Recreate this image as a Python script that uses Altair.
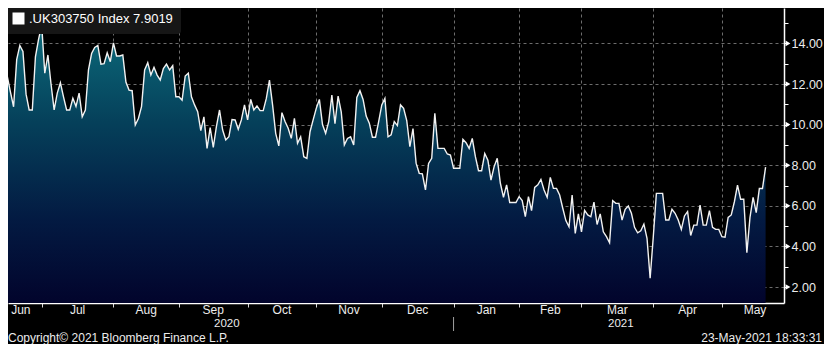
import altair as alt
import pandas as pd

# ---- data ----
values = [
    10.75, 11.12, 12.36, 11.6, 10.88, 13.2, 13.9, 13.6, 11.5, 10.72,
    10.72, 13.34, 14.2, 14.9, 12.53, 13.43, 12.0, 10.72, 11.55, 12.06,
    11.37, 10.72, 10.72, 11.3, 10.9, 11.55, 10.39, 10.72, 12.7, 13.5,
    13.8, 13.9, 12.98, 13.0, 13.54, 13.1, 14.03, 13.38, 13.38, 13.43,
    12.1, 11.7, 11.67, 9.98, 10.3, 10.88, 12.69, 13.05, 12.44, 12.82,
    12.44, 12.2, 12.76, 12.98, 12.69, 12.9, 11.37, 11.37, 11.2, 12.39,
    12.53, 11.37, 10.97, 10.64, 9.7, 10.38, 8.83, 9.85, 8.88, 9.9,
    10.72, 9.73, 9.24, 9.40, 10.25, 10.23, 9.77, 10.23, 10.97, 10.23,
    11.24, 10.72, 10.92, 10.69, 10.69, 11.29, 12.19, 10.97, 9.57, 8.95,
    10.59, 10.15, 9.82, 9.32, 10.31, 9.08, 9.40, 8.42, 8.34, 9.65,
    10.23, 10.80, 11.24, 10.0, 9.57, 10.15, 11.45, 10.05, 11.40, 10.63,
    9.0, 9.32, 9.40, 9.0, 11.34, 11.67, 11.24, 10.42, 10.07, 9.38,
    9.38, 10.15, 10.97, 11.29, 9.40, 9.5, 10.15, 9.95, 10.97, 10.80,
    10.2, 8.91, 9.8, 8.1, 7.6, 7.57, 6.78, 8.09, 8.34, 10.56,
    8.83, 8.83, 8.83, 8.55, 8.5, 7.85, 7.85, 7.85, 9.27, 9.11,
    8.83, 9.32, 8.42, 7.73, 7.73, 8.58, 8.25, 7.27, 7.93, 8.34,
    7.11, 6.42, 7.03, 6.16, 6.16, 6.16, 6.45, 6.26, 5.47, 6.45,
    5.76, 6.91, 7.03, 7.3, 6.78, 6.42, 7.4, 6.86, 6.86, 6.53,
    5.88, 5.27, 4.97, 6.53, 4.64, 5.6, 4.72, 5.77, 5.55, 5.46,
    6.18, 5.08, 5.6, 4.72, 4.48, 4.18, 6.25, 6.12, 6.12, 5.30,
    5.83, 5.99, 5.63, 4.94, 4.67, 4.77, 5.10, 4.40, 2.43, 4.45,
    6.61, 6.61, 6.61, 5.30, 5.30, 5.83, 5.63, 5.30, 4.84, 5.50,
    5.71, 4.54, 5.05, 5.05, 6.04, 5.05, 5.05, 5.76, 4.94, 4.84,
    4.84, 4.48, 4.45, 5.43, 5.55, 6.2, 7.02, 6.32, 6.32, 3.69,
    5.43, 6.42, 5.66, 6.85, 6.85, 7.9019,
]
dates = pd.bdate_range("2020-06-12", "2021-05-21")
series_name = ".UK303750 Index 7.9019"
month_names = ["Jun", "Jul", "Aug", "Sep", "Oct", "Nov", "Dec",
               "Jan", "Feb", "Mar", "Apr", "May"]
year_names = ["2020", "2021"]
y_ticks = [2, 3, 4, 5, 6, 7, 8, 9, 10, 11, 12, 13, 14, 15]
y_major = [2, 4, 6, 8, 10, 12, 14]
copyright_text = "Copyright\u00a9 2021 Bloomberg Finance L.P."
stamp_text = "23-May-2021 18:33:31"

# ---- layout ----
W, H = 776, 295
PAD_R, PAD_B = 40, 41
X_EDGE_L, X_EDGE_R = -0.35, 252.2      # full visible extent of the original axis
X_DOM = [2.21, 250.9]
Y_DOM = [1.212, 15.744]
FONT = "Liberation Sans, Arial, sans-serif"
TXT = "#ececec"

df = pd.DataFrame({"i": list(range(len(values))), "v": values,
                   "series": series_name})

month_starts = [k for k in range(1, len(dates)) if dates[k].month != dates[k - 1].month]
edges = [X_EDGE_L] + month_starts + [X_EDGE_R]
months_df = pd.DataFrame({
    "m": month_names,
    "pos": [(edges[k] + edges[k + 1]) / 2 for k in range(len(month_names))],
})
jan = [k for k in month_starts if dates[k].month == 1][0]
years_df = pd.DataFrame({
    "yr": year_names,
    "pos": [(X_EDGE_L + jan) / 2, (jan + X_EDGE_R) / 2],
})
sep_df = pd.DataFrame({"pos": [jan]})
major_df = pd.DataFrame({"t": y_major})

xs = alt.Scale(domain=X_DOM, nice=False, zero=False)
ys = alt.Scale(domain=Y_DOM, nice=False, zero=False)

xaxis = alt.Axis(
    title=None, orient="bottom", values=month_starts, labels=False,
    tickSize=4, tickColor="#d8d8d8", tickWidth=1,
    domainColor="#ffffff", domainWidth=1.5,
    grid=True, gridColor="#808080", gridDash=[3, 3], gridWidth=1, gridOpacity=0.85,
)
yaxis = alt.Axis(
    title=None, orient="right", values=y_ticks,
    labelExpr="datum.value % 2 == 0 ? format(datum.value, '.2f') : ''",
    labelFont=FONT, labelFontSize=12.5, labelColor=TXT, labelPadding=3,
    tickSize=4, tickColor="#ffffff", tickWidth=1,
    domainColor="#ffffff", domainWidth=1.5,
    grid=True, gridColor="#808080", gridDash=[3, 3], gridWidth=1,
    gridOpacity={"condition": {"test": "datum.value % 2 == 0", "value": 0.85}, "value": 0},
)

gradient = alt.Gradient(
    gradient="linear",
    stops=[
        alt.GradientStop(color="#0c6b7b", offset=0),
        alt.GradientStop(color="#05405a", offset=0.35),
        alt.GradientStop(color="#031a42", offset=0.7),
        alt.GradientStop(color="#02042c", offset=1),
    ],
    x1=0, x2=0, y1=0, y2=1,
)

base = alt.Chart(df)

area = base.mark_area(clip=True, color=gradient).encode(
    x=alt.X("i:Q", scale=xs, axis=xaxis),
    y=alt.Y("v:Q", scale=ys, axis=yaxis),
    y2=alt.datum(Y_DOM[0]),
)

line = base.mark_line(clip=True, strokeWidth=1.4).encode(
    x=alt.X("i:Q", scale=xs, axis=xaxis),
    y=alt.Y("v:Q", scale=ys, axis=yaxis),
    color=alt.Color(
        "series:N",
        scale=alt.Scale(range=["#f2f2f2"]),
        legend=alt.Legend(
            title=None, orient="none", legendX=-4, legendY=-4,
            padding=8, fillColor="#161616", cornerRadius=3,
            labelFont=FONT, labelFontSize=13, labelColor="#ffffff",
            labelOffset=4, labelLimit=0,
            symbolType="square", symbolSize=144, symbolFillColor="#ffffff",
            symbolStrokeColor="#ffffff", symbolStrokeWidth=0, symbolOpacity=1,
        ),
    ),
)

triangles = alt.Chart(major_df).mark_point(
    shape="triangle-right", filled=True, size=32, color="#ffffff", opacity=1
).encode(
    x=alt.value(W + 4),
    y=alt.Y("t:Q", scale=ys, axis=yaxis),
)

month_text = alt.Chart(months_df).mark_text(
    font=FONT, fontSize=12, color=TXT, baseline="middle", align="center"
).encode(
    x=alt.X("pos:Q", scale=xs, axis=xaxis),
    y=alt.value(H + 7),
    text="m:N",
)

year_text = alt.Chart(years_df).mark_text(
    font=FONT, fontSize=11.5, color=TXT, baseline="middle", align="center"
).encode(
    x=alt.X("pos:Q", scale=xs, axis=xaxis),
    y=alt.value(H + 20.5),
    text="yr:N",
)

year_sep = alt.Chart(sep_df).mark_rule(color="#a0a0a0", strokeWidth=1).encode(
    x=alt.X("pos:Q", scale=xs, axis=xaxis),
    y=alt.value(H + 14),
    y2=alt.value(H + 28),
)

foot_left = alt.Chart(pd.DataFrame({"t": [copyright_text]})).mark_text(
    font=FONT, fontSize=12, color=TXT, baseline="middle", align="left"
).encode(x=alt.value(0), y=alt.value(H + 34.5), text="t:N")

foot_right = alt.Chart(pd.DataFrame({"t": [stamp_text]})).mark_text(
    font=FONT, fontSize=12, color=TXT, baseline="middle", align="right"
).encode(x=alt.value(W + PAD_R - 2), y=alt.value(H + 34.5), text="t:N")

chart = alt.layer(
    area, line, triangles, month_text, year_text, year_sep, foot_left, foot_right
).properties(
    width=W, height=H,
    background="#000000",
    padding={"left": 0, "top": 0, "right": PAD_R, "bottom": PAD_B},
    autosize=alt.AutoSizeParams(type="none"),
).configure_view(stroke=None)

chart.save("out.html", embed_options={"renderer": "svg", "actions": False})
